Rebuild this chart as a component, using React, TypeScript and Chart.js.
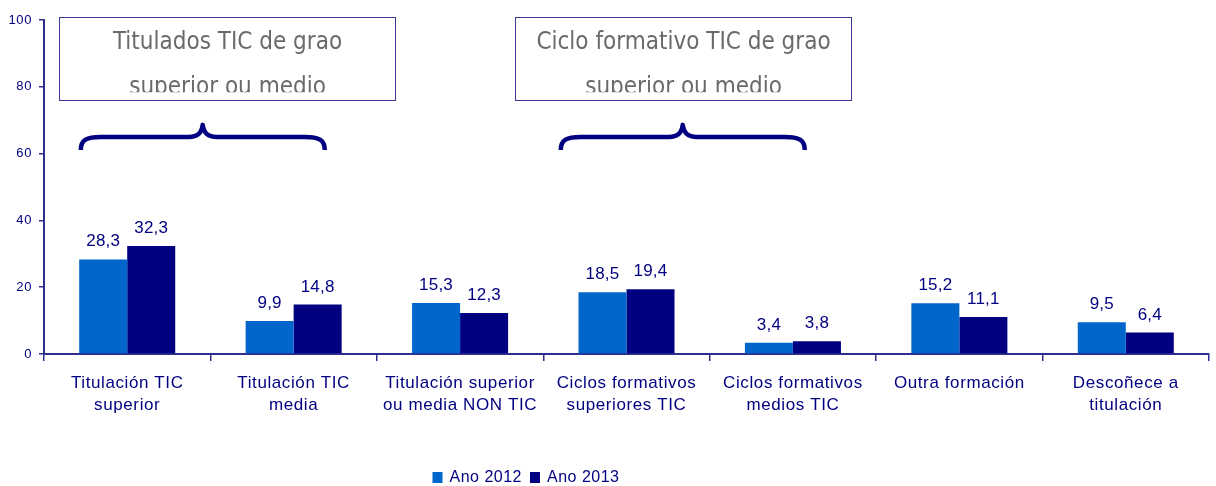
import React, { useEffect, useRef } from 'react';
import { Chart, registerables } from 'chart.js';

Chart.register(...registerables);

// ---------- data ----------
const categories: (string | string[])[] = [
  ['Titulación TIC', 'superior'],
  ['Titulación TIC', 'media'],
  ['Titulación superior', 'ou media NON TIC'],
  ['Ciclos formativos', 'superiores TIC'],
  ['Ciclos formativos', 'medios TIC'],
  'Outra formación',
  ['Descoñece a', 'titulación'],
];
const series2012 = [28.3, 9.9, 15.3, 18.5, 3.4, 15.2, 9.5];
const series2013 = [32.3, 14.8, 12.3, 19.4, 3.8, 11.1, 6.4];
const seriesNames = ['Ano 2012', 'Ano 2013'];
const yMin = 0;
const yMax = 100;
const yStep = 20;
const groupTitles = [
  ['Titulados TIC de grao', 'superior ou medio'],
  ['Ciclo formativo TIC de grao', 'superior ou medio'],
];

// ---------- styles ----------
const NAVY = '#000080';
const BLUE = '#0066CC';
const AXIS = '#2e2e8f';
const FONT = '"Liberation Sans", Arial, sans-serif';
const BOX_FONT = '24px "DejaVu Sans Condensed", "DejaVu Sans", sans-serif';

// annotation geometry in data units (category index, value)
const groupBoxes = [
  { x0: -0.41, x1: 1.607 },
  { x0: 2.328, x1: 4.347 },
];
const boxTop = 100.9;
const boxBottom = 75.9;
const boxClip = 78.4;
const boxLine1 = 91.3;
const boxLine2 = 77.8;
const groupBraces = [
  { x0: -0.279, xm: 0.4536, x1: 1.187 },
  { x0: 2.605, xm: 3.338, x1: 4.071 },
];
const braceEnd = 61.1;
const braceMid = 65;
const braceTip = 68.6;

const fmt = (v: number) => v.toFixed(1).replace('.', ',');

const spacingPlugin = {
  id: 'letterSpacing',
  beforeDraw(chart: any) {
    (chart.ctx as any).letterSpacing = '0.6px';
  },
  beforeDatasetsDraw(chart: any) {
    (chart.ctx as any).letterSpacing = '0px';
  },
};

const annotationsPlugin = {
  id: 'groupAnnotations',
  afterDraw(chart: any) {
    const ctx = chart.ctx as CanvasRenderingContext2D;
    const xs = chart.scales.x;
    const ys = chart.scales.y;
    const px = (v: number) => xs.getPixelForValue(v);
    const py = (v: number) => ys.getPixelForValue(v);
    ctx.save();
    (ctx as any).letterSpacing = '0px';
    groupBoxes.forEach((b, i) => {
      const l = Math.round(px(b.x0)) + 0.5;
      const r = Math.round(px(b.x1)) + 0.5;
      const t = Math.round(py(boxTop)) + 0.5;
      const btm = Math.round(py(boxBottom)) + 0.5;
      ctx.fillStyle = '#ffffff';
      ctx.fillRect(l, t, r - l, btm - t);
      ctx.strokeStyle = '#3a3a96';
      ctx.lineWidth = 1;
      ctx.strokeRect(l, t, r - l, btm - t);
      ctx.save();
      ctx.beginPath();
      ctx.rect(l, t, r - l, py(boxClip) - t);
      ctx.clip();
      ctx.fillStyle = '#6a6a6a';
      ctx.font = BOX_FONT;
      ctx.textAlign = 'center';
      ctx.textBaseline = 'alphabetic';
      const cx = (l + r) / 2;
      ctx.fillText(groupTitles[i][0], cx, py(boxLine1));
      ctx.fillText(groupTitles[i][1], cx, py(boxLine2));
      ctx.restore();
    });
    groupBraces.forEach((b) => {
      const x0 = px(b.x0);
      const xm = px(b.xm);
      const x1 = px(b.x1);
      const ye = py(braceEnd);
      const yh = py(braceMid);
      const yt = py(braceTip);
      ctx.beginPath();
      ctx.moveTo(x0, ye);
      ctx.bezierCurveTo(x0, yh + 3, x0 + 6, yh, x0 + 20, yh);
      ctx.lineTo(xm - 14, yh);
      ctx.bezierCurveTo(xm - 5, yh, xm - 1, yh - 4, xm, yt);
      ctx.bezierCurveTo(xm + 1, yh - 4, xm + 5, yh, xm + 14, yh);
      ctx.lineTo(x1 - 20, yh);
      ctx.bezierCurveTo(x1 - 6, yh, x1, yh + 3, x1, ye);
      ctx.strokeStyle = NAVY;
      ctx.lineWidth = 4.5;
      ctx.lineJoin = 'round';
      ctx.stroke();
    });
    ctx.restore();
  },
};

const valueLabelsPlugin = {
  id: 'valueLabels',
  afterDatasetsDraw(chart: any) {
    const ctx = chart.ctx as CanvasRenderingContext2D;
    ctx.save();
    (ctx as any).letterSpacing = '0.2px';
    ctx.font = '17px ' + FONT;
    ctx.fillStyle = NAVY;
    ctx.textAlign = 'center';
    ctx.textBaseline = 'alphabetic';
    chart.data.datasets.forEach((ds: any, di: number) => {
      const meta = chart.getDatasetMeta(di);
      meta.data.forEach((bar: any, i: number) => {
        ctx.fillText(fmt(ds.data[i]), bar.x, bar.y - 13);
      });
    });
    ctx.restore();
  },
};

const customLegendPlugin = {
  id: 'customLegend',
  afterDraw(chart: any) {
    const ctx = chart.ctx as CanvasRenderingContext2D;
    ctx.save();
    (ctx as any).letterSpacing = '0.5px';
    ctx.font = '16px ' + FONT;
    ctx.textBaseline = 'middle';
    ctx.textAlign = 'left';
    const items = chart.data.datasets.map((ds: any) => ({
      text: ds.label as string,
      color: ds.backgroundColor as string,
      w: 17 + ctx.measureText(ds.label).width,
    }));
    const gap = 8;
    const total = items.reduce((s: number, it: any) => s + it.w, 0) + gap * (items.length - 1);
    const centerX = 526;
    const cy = 477.5;
    let x = centerX - total / 2;
    items.forEach((it: any) => {
      ctx.fillStyle = it.color;
      ctx.fillRect(x, cy - 5.5, 10, 11);
      ctx.fillStyle = NAVY;
      ctx.fillText(it.text, x + 17, cy + 0.5);
      x += it.w + gap;
    });
    ctx.restore();
  },
};

export default function App() {
  const canvasRef = useRef<HTMLCanvasElement | null>(null);

  useEffect(() => {
    if (!canvasRef.current) return;
    Chart.defaults.font.family = FONT;
    const chart = new Chart(canvasRef.current, {
      type: 'bar',
      data: {
        labels: categories,
        datasets: [
          {
            label: seriesNames[0],
            data: series2012,
            backgroundColor: BLUE,
            borderWidth: 0,
            categoryPercentage: 0.577,
            barPercentage: 1,
          },
          {
            label: seriesNames[1],
            data: series2013,
            backgroundColor: NAVY,
            borderWidth: 0,
            categoryPercentage: 0.577,
            barPercentage: 1,
          },
        ],
      },
      options: {
        responsive: false,
        animation: false,
        layout: { padding: { top: 20, right: 7, left: 0, bottom: 0 } },
        plugins: {
          legend: { display: false },
          tooltip: { enabled: false },
          title: { display: false },
        },
        scales: {
          x: {
            grid: {
              display: true,
              offset: true,
              drawOnChartArea: false,
              drawTicks: true,
              tickLength: 7,
              color: AXIS,
              lineWidth: 1.5,
            },
            border: { display: true, color: AXIS, width: 2 },
            ticks: {
              color: NAVY,
              font: { size: 17, family: FONT, lineHeight: 1.3 },
              padding: 11,
              maxRotation: 0,
              minRotation: 0,
              autoSkip: false,
            },
            afterFit(scale: any) {
              scale.height = 132;
            },
          },
          y: {
            min: yMin,
            max: yMax,
            grid: {
              display: true,
              drawOnChartArea: false,
              drawTicks: true,
              tickLength: 5,
              color: AXIS,
              lineWidth: 1.5,
            },
            border: { display: true, color: AXIS, width: 2 },
            ticks: {
              stepSize: yStep,
              color: NAVY,
              font: { size: 13, family: FONT },
              padding: 7,
            },
            afterFit(scale: any) {
              scale.width = 44;
            },
          },
        },
      },
      plugins: [spacingPlugin, valueLabelsPlugin, annotationsPlugin, customLegendPlugin],
    });
    return () => chart.destroy();
  }, []);

  return (
    <div style={{ position: 'absolute', left: 0, top: 0, width: 1216, height: 486, background: '#fff' }}>
      <canvas ref={canvasRef} width={1216} height={486} style={{ display: 'block' }} />
    </div>
  );
}
